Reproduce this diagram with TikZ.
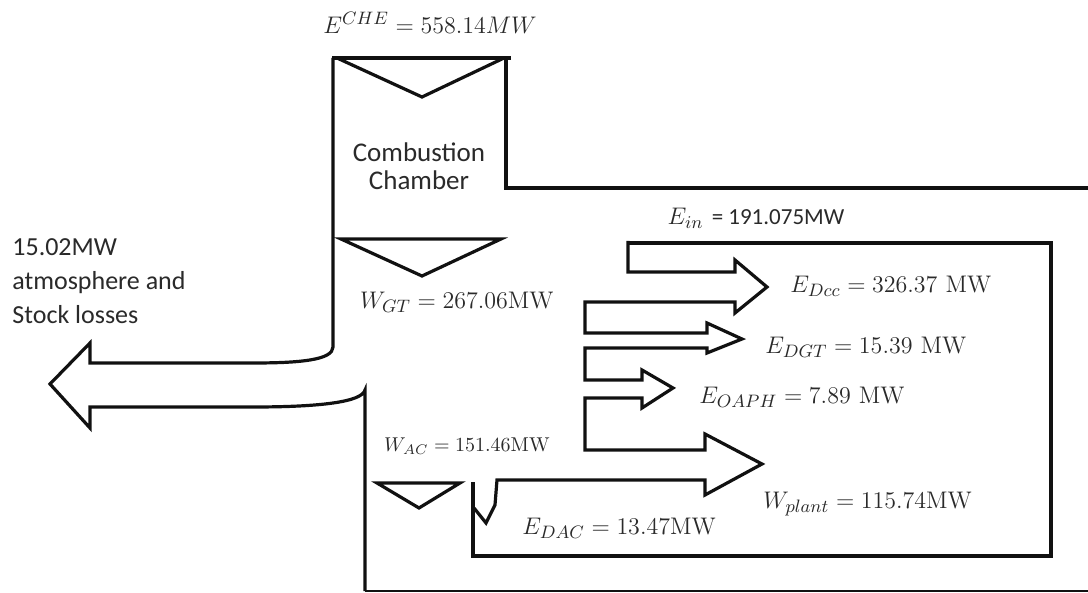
\documentclass[tikz,border=0pt]{standalone}
\usepackage[no-math]{fontspec}
\setsansfont{Carlito}
\definecolor{ink}{HTML}{111111}
\definecolor{txt}{HTML}{2A2A2A}
\tikzset{
  flow/.style={draw=ink,line width=1.6pt,line join=miter},
  rim/.style={draw=ink,line width=1.1pt},
  lab/.style={font=\fontsize{12.5}{15}\selectfont,inner sep=1pt,text=txt},
  slab/.style={lab,font=\sffamily\fontsize{13.5}{14}\selectfont,align=center},
  llab/.style={lab,font=\sffamily\fontsize{13}{17}\selectfont,align=left},
  wlab/.style={lab,font=\fontsize{9.8}{12}\selectfont}
}

\begin{document}
\begin{tikzpicture}[x=0.5pt,y=-0.5pt]
\fill[white] (0,0) rectangle (1088,593);
\useasboundingbox (0,0) rectangle (1088,593);
% ===================== combustion chamber =====================
\draw[flow] (511,58) -- (332,58);
\draw[flow] (337,58) -- (422,97) -- (504,58);
\draw[flow] (506,58) -- (506,188) -- (1090,188);
\node[lab] (eche) at (430,23) {$E^{CHE} = 558.14MW$};
\node[slab] (cc) at (419,166) {Combustion\\Chamber};
% gas turbine work
\draw[flow] (341,239) -- (501,239) -- (422,276) -- cycle;
\node[lab] (wgt) at (457,302) {$W_{GT} = 267.06\mathrm{MW}$};
% ===================== losses to the left =====================
\draw[flow] (333,58) -- (333,347) .. controls (333,360) and (300,363) .. (253,363) -- (90,363) -- (90,343) -- (50,384) -- (90,428) -- (90,407) -- (253,407) .. controls (320,407) and (362,402) .. (365,390) -- (365,591);
\draw[rim] (365,591) -- (1090,591);
\node[llab,anchor=north west] (loss) at (10,236) {15.02MW\\atmosphere and\\Stock losses};
% ===================== exergy destruction arrows =====================
\draw[flow] (628,243) -- (1051,243) -- (1051,556) -- (473,556) -- (473,482);
\draw[flow] (474,508) -- (486,523) -- (495,505) -- (497,480) -- (705,480) -- (705,495) -- (762,464) -- (705,434) -- (705,450)
  -- (585,450) -- (585,398) -- (642,398) -- (642,408) -- (673,388) -- (642,370) -- (642,380)
  -- (585,380) -- (585,348) -- (707,348) -- (707,353) -- (742,339) -- (707,323) -- (707,333)
  -- (585,333) -- (585,302) -- (735,302) -- (735,313) -- (767,287) -- (735,260) -- (735,272)
  -- (628,272) -- (628,241);
\node[lab] (ein) at (756,218) {$E_{in}$ \sffamily\fontsize{11.5}{14}\selectfont= 191.075MW};
\node[lab,anchor=west] (edcc) at (788,286) {$E_{Dcc} = 326.37\ \mathrm{MW}$};
\node[lab,anchor=west] (edgt) at (763,347) {$E_{DGT} = 15.39\ \mathrm{MW}$};
\node[lab,anchor=west] (eoaph) at (697,397) {$E_{OAPH} = 7.89\ \mathrm{MW}$};
\node[lab,anchor=west] (wplant) at (761,504) {$W_{plant} = 115.74\mathrm{MW}$};
\node[lab,anchor=west] (edac) at (520,528) {$E_{DAC} = 13.47\mathrm{MW}$};
% air compressor work
\draw[flow] (377,483) -- (460,483) -- (419,508) -- cycle;
\node[wlab] (wac) at (467,446) {$W_{AC} = 151.46\mathrm{MW}$};
\end{tikzpicture}
\end{document}
